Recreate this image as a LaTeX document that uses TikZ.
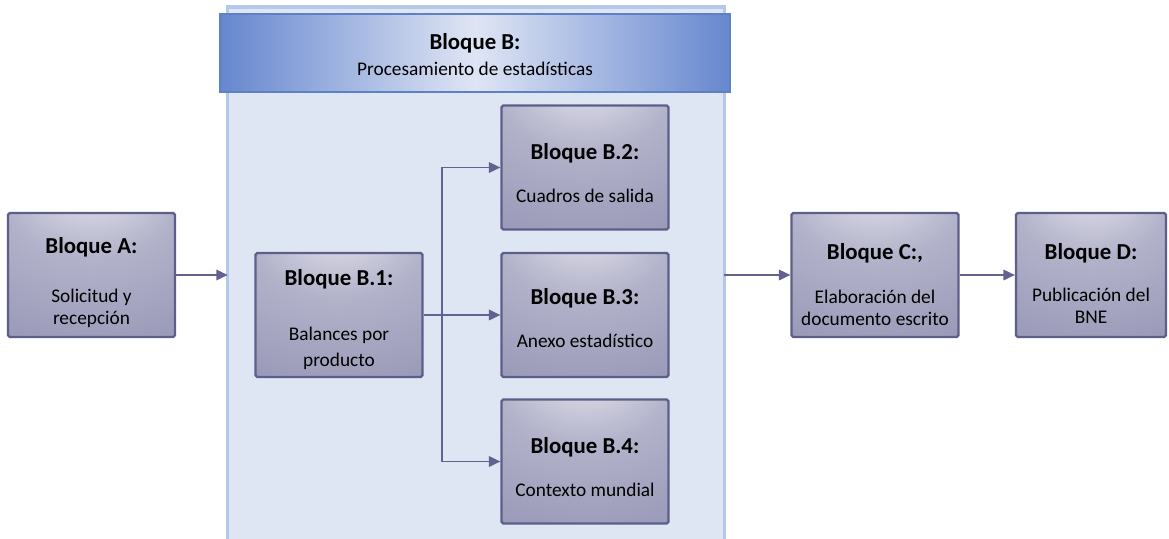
\documentclass[tikz,border=0pt]{standalone}
\usepackage{fontspec}
\setmainfont{Carlito}
\usetikzlibrary{arrows.meta}
\definecolor{panelfill}{HTML}{DEE5F3}
\definecolor{paneledge}{HTML}{B6C8EA}
\definecolor{hdrside}{HTML}{6687CE}
\definecolor{hdrmid}{HTML}{DFE5F4}
\definecolor{hdredge}{HTML}{5F80C4}
\definecolor{blklight}{HTML}{ECECF2}
\definecolor{blkmid}{HTML}{B2B2CA}
\definecolor{blkdark}{HTML}{9393B4}
\definecolor{blkdeep}{HTML}{78769E}
\definecolor{blkcorner}{HTML}{6A6892}
\definecolor{blkedge}{HTML}{5E5E8A}
\definecolor{arrowcol}{HTML}{62618F}
\pgfdeclareradialshading{blockshade}{\pgfpoint{0bp}{42bp}}{color(0bp)=(blklight); color(26bp)=(blkmid); color(62bp)=(blkdark); color(88bp)=(blkdeep); color(105bp)=(blkcorner); color(120bp)=(blkcorner)}

\begin{document}
\begin{tikzpicture}[x=0.02cm,y=-0.02cm,>={Triangle[length=6.5pt,width=6pt]}]
\tikzstyle{block}=[rectangle,draw=blkedge,line width=1.3pt,rounded corners=1pt,shading=blockshade,minimum width=3.34cm,minimum height=2.48cm,align=center,font=\fontsize{11}{12.6}\selectfont,inner sep=0pt]
\tikzstyle{panel}=[rectangle,fill=panelfill,minimum width=9.92cm,minimum height=10.9cm,inner sep=0pt]
\tikzstyle{header}=[rectangle,draw=hdredge,line width=0.8pt,left color=hdrside,right color=hdrside,middle color=hdrmid,minimum width=10.2cm,minimum height=1.56cm,align=center,font=\fontsize{11}{14.5}\selectfont]
\tikzstyle{link}=[draw=arrowcol,line width=0.9pt]
\newcommand{\ttl}[2][12pt]{{\rule{0pt}{#1}\fontsize{13}{15}\selectfont\bfseries #2}}
\useasboundingbox (0,0) rectangle (1169,538);
\node[panel](P) at (476,280) {};
\draw[paneledge,line width=2pt] (P.south west) -- (P.north west) -- (P.north east) -- (P.south east);
\node[header](H) at (475,53) {\ttl[11pt]{Bloque B:}\\Procesamiento de estadísticas};
\node[block](A) at (91.5,275) {\ttl[18pt]{Bloque A:}\\[15pt]Solicitud y\\recepción};
\node[block](B1) at (339,315) {\ttl[14pt]{Bloque B.1:}\\[19pt]Balances por\\[2pt]producto};
\node[block](B2) at (585,167.5) {\ttl[15pt]{Bloque B.2:}\\[12pt]Cuadros de salida};
\node[block](B3) at (585,315) {\ttl[13pt]{Bloque B.3:}\\[12pt]Anexo estadístico};
\node[block](B4) at (585,461.5) {\ttl[15pt]{Bloque B.4:}\\[12pt]Contexto mundial};
\node[block](C) at (875,275) {\ttl[20pt]{Bloque C:,}\\[12pt]Elaboración del\\documento escrito};
\node[block,minimum width=3.0cm](D) at (1091,275) {\ttl[19pt]{Bloque D:}\\[11pt]Publicación del\\BNE};
\coordinate (J) at (442,315);

\draw[link,->] (A) -- (A -| P.west);
\draw[link,->] (B1) -- (B3);
\draw[link,->] (J) |- (B2);
\draw[link,->] (J) |- (B4);
\draw[link,->] (P.east |- C) -- (C);
\draw[link,->] (C) -- (D);
\end{tikzpicture}
\end{document}
